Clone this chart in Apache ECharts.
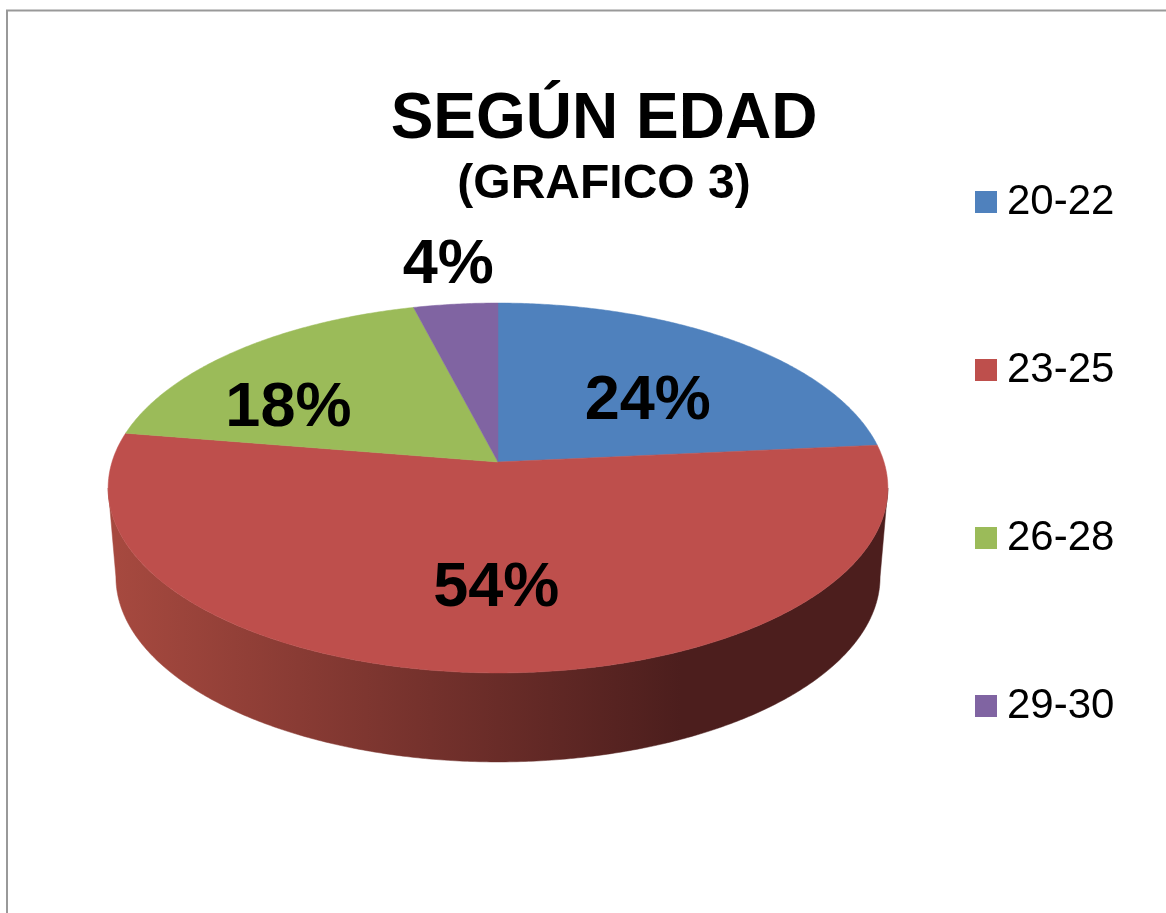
<!DOCTYPE html>
<html>
<head>
<meta charset="utf-8">
<style>html,body{margin:0;padding:0;background:#fff;overflow:hidden}#c{width:1166px;height:913px}</style>
<script src="https://cdn.jsdelivr.net/npm/echarts@6/dist/echarts.min.js"></script>
</head>
<body>
<div id="c"></div>
<script>
const categories = ['20-22', '23-25', '26-28', '29-30'];
const values = [23.5, 54.1, 18.4, 4.0];
const colors = ['#4f81bd', '#be4f4c', '#9bbb59', '#8064a2'];
const titleText = 'SEGÚN EDAD';
const subtitleText = '(GRAFICO 3)';

// Layout of the tilted pie (perspective projection of a circle)
const apexX = 498, apexY = 462, radiusX = 386, radiusY = 181.3, tilt = 0.1405;
const depth = 89, rimScale = 0.98;
const labelFraction = 0.6;
const labelOffsets = [[3, 15], [7, 8], [-48, 16], [-23, -97]];
const fontFamily = '"Liberation Sans", Arial, sans-serif';

const total = values.reduce((a, b) => a + b, 0);
const DEG = Math.PI / 180;
function project(thetaDeg, r) {
  const t = thetaDeg * DEG, w = 1 + tilt * r * Math.cos(t);
  return [apexX + radiusX * r * Math.sin(t) / w, apexY - radiusY * r * Math.cos(t) / w];
}
function lower(p) { return [apexX + (p[0] - apexX) * rimScale, p[1] + depth]; }
function arc(a, b) {
  const pts = [], n = Math.max(2, Math.ceil(Math.abs(b - a) * 2));
  for (let i = 0; i <= n; i++) pts.push(project(a + (b - a) * i / n, 1));
  return pts;
}
// Rim is visible where the projected circle is past its widest point
const visibleFrom = Math.acos(-tilt) / DEG, visibleTo = 360 - visibleFrom;
const sideGradient = {
  type: 'linear', x: 116, y: 0, x2: 880, y2: 0, global: true,
  colorStops: [{ offset: 0, color: '#a6493f' }, { offset: 0.74, color: '#4c1e1d' }, { offset: 1, color: '#4c1e1d' }]
};

const series = categories.map((name, idx) => ({
  type: 'custom', name, coordinateSystem: 'none', silent: true, z: 2,
  itemStyle: { color: colors[idx] },
  data: [[values[idx]]],
  renderItem(params, api) {
    const before = values.slice(0, idx).reduce((a, b) => a + b, 0);
    const v = api.value(0);
    const a = before / total * 360, b = (before + v) / total * 360;
    const children = [];
    const from = Math.max(a, visibleFrom), to = Math.min(b, visibleTo);
    if (to > from) {
      const top = arc(from, to);
      children.push({
        type: 'polygon', shape: { points: top.concat(top.slice().reverse().map(lower)) },
        style: { fill: sideGradient, stroke: sideGradient, lineWidth: 0.5 }
      });
    }
    children.push({
      type: 'polygon', shape: { points: [[apexX, apexY]].concat(arc(a, b)) },
      style: { fill: colors[idx], stroke: colors[idx], lineWidth: 0.5 }
    });
    const c = project((a + b) / 2, labelFraction), off = labelOffsets[idx];
    children.push({
      type: 'text', z2: 10,
      style: {
        x: c[0] + off[0], y: c[1] + off[1], text: Math.round(v / total * 100) + '%',
        align: 'center', verticalAlign: 'middle', fill: '#000',
        font: 'bold 63px ' + fontFamily
      }
    });
    return { type: 'group', children };
  }
}));

const chart = echarts.init(document.getElementById('c'), null, { renderer: 'canvas' });
chart.setOption({
  animation: false,
  backgroundColor: '#ffffff',
  title: {
    text: titleText, subtext: subtitleText, left: 599, top: 78, textAlign: 'center', itemGap: 1,
    textStyle: { fontFamily, fontWeight: 'bold', fontSize: 64, color: '#000', lineHeight: 74 },
    subtextStyle: { fontFamily, fontWeight: 'bold', fontSize: 48, color: '#000', lineHeight: 54 }
  },
  legend: {
    orient: 'vertical', left: 975, top: 177, itemWidth: 22, itemHeight: 22, itemGap: 118, icon: 'rect',
    selectedMode: false, data: categories, padding: 0,
    textStyle: { fontFamily, fontSize: 42, color: '#000', lineHeight: 50, padding: [0, 0, 0, 5] }
  },
  graphic: [{
    type: 'polyline', silent: true,
    shape: { points: [[7, 913], [7, 10.5], [1166, 10.5]] },
    style: { stroke: '#999999', lineWidth: 2, fill: null }
  }],
  series
});
</script>
</body>
</html>
